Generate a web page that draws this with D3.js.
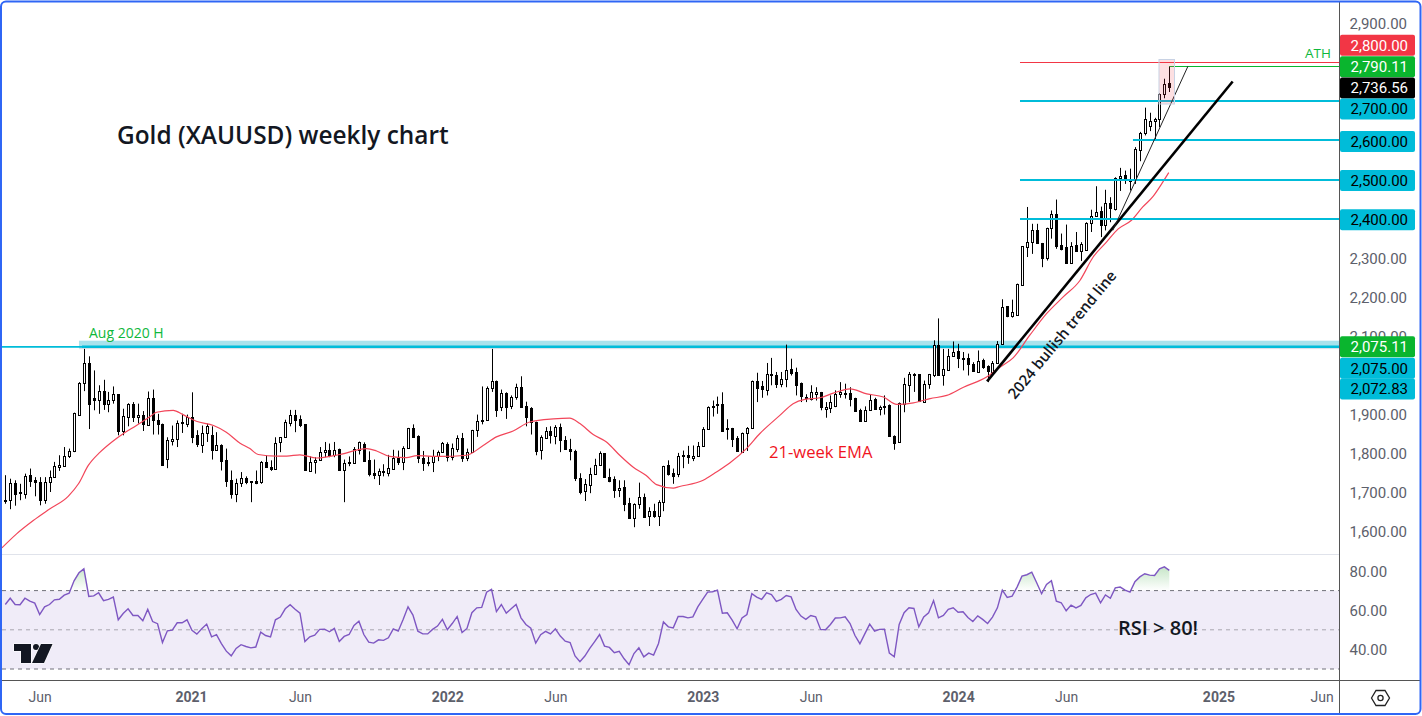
<!DOCTYPE html>
<html><head><meta charset="utf-8">
<script src="https://cdn.jsdelivr.net/npm/d3@7"></script>
<style>
html,body{margin:0;padding:0;background:#fff;overflow:hidden}
svg{display:block}
text{font-family:Roboto,"Noto Sans",sans-serif}
</style></head><body>
<svg id="c" width="1422" height="716"></svg>
<script>
// ---------- weekly candles (XAUUSD) ----------
const opens=[1681,1681,1725,1698,1698,1744,1731,1726,1680,1726,
1740,1766,1769,1793,1806,1899,1980,2032,1942,1936,
1960,1928,1935,1951,1857,1895,1927,1893,1899,1874,
1942,1886,1876,1784,1831,1836,1877,1874,1894,1846,
1823,1852,1846,1807,1820,1782,1731,1696,1724,1738,
1730,1729,1726,1778,1766,1761,1827,1840,1878,1899,
1887,1874,1756,1778,1784,1803,1809,1797,1810,1758,
1775,1775,1810,1825,1784,1750,1744,1752,1751,1762,
1789,1778,1813,1865,1843,1789,1778,1778,1793,1803,
1825,1792,1813,1840,1788,1803,1860,1886,1886,1967,
1986,1918,1955,1921,1944,1970,1922,1917,1881,1809,
1841,1858,1846,1868,1835,1812,1807,1738,1703,1721,
1747,1770,1800,1740,1733,1706,1713,1672,1634,1670,
1689,1640,1653,1640,1675,1769,1749,1749,1793,1795,
1789,1793,1819,1862,1919,1923,1925,1862,1864,1839,
1805,1852,1865,1986,1971,1964,2004,2001,1977,1990,
2015,2007,1981,1942,1941,1954,1956,1914,1917,1922,
1952,1952,1955,1941,1910,1883,1911,1938,1914,1920,
1923,1845,1829,1928,1977,2003,2002,1933,1977,1998,
2076,2000,2015,2050,2061,2041,2043,2029,2010,2038,
2022,2009,2031,2079,2176,2150,2153,2229,2327,2340,
2370,2338,2300,2377,2413,2332,2327,2287,2332,2317,
2321,2389,2407,2419,2385,2441,2425,2504,2511,2495,
2498,2576,2619,2639,2651,2656,2719,2747];
const closes=[1678,1725,1698,1700,1743,1729,1725,1680,1727,1740,
1767,1771,1794,1807,1902,1980,2032,1928,1936,1960,
1928,1937,1951,1857,1896,1927,1893,1899,1875,1942,
1886,1875,1770,1833,1837,1878,1879,1893,1844,1823,
1853,1871,1807,1820,1780,1728,1695,1725,1738,1728,
1727,1724,1778,1764,1761,1827,1841,1879,1899,1886,
1871,1756,1778,1784,1804,1809,1797,1809,1756,1775,
1777,1812,1830,1782,1749,1744,1755,1755,1763,1789,
1778,1814,1865,1842,1788,1777,1779,1794,1804,1826,
1792,1814,1840,1788,1804,1860,1883,1883,1967,1986,
1913,1955,1920,1945,1970,1920,1893,1880,1807,1842,
1858,1847,1868,1834,1811,1806,1737,1703,1722,1748,
1771,1800,1739,1731,1706,1712,1670,1634,1671,1689,
1639,1653,1640,1676,1768,1746,1742,1794,1795,1789,
1794,1819,1863,1919,1922,1925,1857,1864,1836,1806,
1853,1865,1986,1969,1964,2004,2001,1977,1991,2014,
2005,1975,1948,1945,1958,1958,1917,1918,1932,1952,
1957,1955,1940,1908,1883,1912,1937,1913,1918,1922,
1844,1828,1929,1978,2004,2003,1933,1978,2002,2076,
1999,2016,2050,2060,2042,2044,2027,2010,2037,2020,
2008,2032,2080,2174,2150,2161,2232,2329,2340,2370,
2336,2300,2377,2413,2330,2321,2287,2331,2317,2336,
2389,2408,2417,2383,2441,2427,2505,2510,2500,2501,
2577,2620,2656,2651,2656,2720,2745,2736.56];
const highs=[1744,1735,1731,1722,1748,1761,1739,1739,1739,1756,
1778,1795,1816,1812,1904,1982,2067,2048,2012,1974,
1988,1957,1971,1951,1914,1928,1931,1927,1908,1958,
1963,1901,1876,1841,1871,1884,1901,1899,1956,1859,
1871,1876,1869,1854,1823,1812,1756,1735,1752,1741,
1729,1756,1780,1795,1782,1841,1841,1886,1911,1911,
1897,1874,1792,1790,1816,1829,1825,1829,1812,1784,
1792,1816,1830,1828,1805,1784,1761,1772,1796,1809,
1807,1818,1865,1874,1846,1806,1792,1809,1807,1829,
1828,1825,1846,1852,1812,1860,1899,1971,1971,2067,
1986,1963,1956,1948,1978,1997,1932,1918,1881,1846,
1867,1869,1872,1876,1844,1837,1809,1749,1734,1763,
1786,1805,1800,1761,1741,1731,1731,1686,1672,1725,
1697,1662,1671,1680,1768,1782,1761,1801,1807,1819,
1820,1829,1867,1920,1935,1945,1956,1887,1865,1844,
1853,1867,1986,2006,1985,2031,2044,2008,2008,2078,
2042,2019,1981,1951,1974,1969,1957,1931,1948,1961,
1982,1978,1969,1942,1914,1920,1951,1942,1922,1948,
1925,1846,1930,1993,2008,2005,2002,1986,2003,2089,
2145,2067,2067,2086,2080,2059,2055,2033,2063,2042,
2025,2036,2087,2194,2176,2193,2234,2329,2430,2387,
2387,2338,2377,2421,2449,2362,2385,2340,2366,2340,
2391,2423,2483,2431,2474,2455,2506,2530,2523,2528,
2583,2622,2684,2671,2658,2721,2758,2790];
const lows=[1671,1657,1666,1680,1684,1714,1690,1667,1671,1701,
1739,1755,1767,1788,1803,1898,1959,1862,1910,1901,
1911,1905,1927,1846,1846,1869,1880,1876,1857,1871,
1848,1848,1770,1762,1820,1816,1852,1867,1826,1816,
1801,1829,1784,1806,1756,1714,1684,1675,1714,1721,
1675,1721,1722,1763,1755,1761,1803,1840,1869,1854,
1867,1756,1756,1748,1782,1790,1790,1790,1756,1675,
1767,1775,1797,1780,1741,1734,1719,1741,1741,1758,
1770,1757,1811,1840,1775,1755,1767,1752,1780,1801,
1779,1782,1803,1778,1780,1802,1842,1874,1884,1957,
1893,1908,1888,1913,1937,1920,1869,1848,1795,1784,
1840,1825,1823,1803,1809,1782,1729,1695,1678,1698,
1746,1768,1739,1726,1686,1688,1652,1634,1611,1658,
1636,1614,1635,1614,1652,1743,1722,1739,1762,1773,
1780,1791,1818,1861,1894,1901,1856,1835,1816,1805,
1803,1806,1865,1931,1942,1948,1974,1967,1969,1969,
1999,1948,1931,1931,1935,1935,1910,1891,1903,1918,
1942,1940,1920,1908,1882,1882,1910,1911,1897,1899,
1843,1809,1829,1905,1931,1957,1931,1929,1965,1995,
1999,1973,2012,2050,2018,2012,1999,2008,2008,2016,
1982,2003,2029,2079,2148,2147,2152,2229,2302,2310,
2336,2276,2293,2349,2323,2319,2286,2286,2315,2292,
2319,2366,2406,2353,2370,2391,2421,2471,2489,2472,
2489,2547,2613,2624,2599,2634,2708,2724];

// 21-week EMA, read at selected weeks
const emaWeeks=[-0.7,2.3,5.7,9.1,12.8,14.9,16.9,19.3,21.7,24,26.7,29.5,30.8,34.2,36.2,38.9,42.4,45,47.8,49.8,51.5,55.2,57.3,60,63.4,68.1,
73.6,75.6,78.3,81.7,83.8,88.5,93.9,97.3,100,103.4,106.8,111.6,114.9,117,119.7,122.4,125.1,127.8,130.5,132.6,136,137.3,
142.1,144.8,147.5,150.9,153.6,157.7,160.4,162.8,165.9,168.6,172,175.4,178.8,181.5,184.9,188.3,191.7,195.1,199.8,202.5,205.2,
208.6,212,215.4,218.8,221.5,224.2,226.6,229.3,231.6,233.7,235.7,236.9];
const emaValues=[1558,1594,1628,1658,1690,1722,1769,1803,1829,1850,1871,1894,1905,1910,1899,1882,1871,1854,1826,1812,1797,1793,1793,1796,1788,1797,
1812,1806,1792,1789,1794,1792,1795,1820,1842,1857,1880,1888,1890,1876,1848,1829,1795,1765,1743,1720,1711,1715,
1731,1752,1775,1812,1850,1897,1927,1938,1942,1954,1965,1952,1944,1925,1929,1940,1948,1969,1995,2020,2044,
2102,2157,2200,2242,2302,2340,2374,2396,2430,2457,2494,2518];

// RSI, one value per week
const rsiValues=[62.9,66.1,62.9,62.8,66.1,64.6,63.6,57.8,61.7,62.9,
65.3,65.6,67.7,68.7,75,79.1,81.1,67,67.3,68.9,
64.9,65.5,66.7,55.1,58.3,60.7,57.3,57.3,54.6,60.4,
54.2,53.1,43.5,49.5,49.8,53.6,53.6,55.1,49.7,47.8,
50.5,52.9,46.4,47.5,43,39.1,36.7,40.5,42.4,41.5,
40.8,41.2,48.8,47.1,46.4,55.1,56.5,60.7,62.8,60.5,
58.5,44,46.4,47.3,50.2,50.3,49,50.7,44,46.6,
47.6,52.2,54.4,47.6,43.7,43.2,44.9,44.6,45.9,50.5,
49.3,55.3,61.7,57.5,49.3,47.9,47.9,50.2,51.9,55.3,
50,53.2,56.8,48.6,50.7,58.7,61.2,61.4,69.2,70.7,
59.3,62.9,58.5,60.7,62.9,56.1,52.7,50.8,43.2,47.5,
49.2,47.9,50.5,46.8,44.2,43.5,36.7,33.7,36.6,40.5,
44,47.6,41.7,41,38.3,39,35.2,32.2,37.9,40.8,
36.2,38.1,37.1,43,54,51.5,51,56.8,56.8,56.1,
56.6,61.7,65.5,69.2,69.4,70.2,58.5,58.7,54.9,50.5,
56.1,57.8,68.4,66.7,65.5,68.9,68,64.5,65.5,67.5,
66.8,60.4,57,55.3,57.3,56.6,50.2,50,52.7,56,
56.1,56.6,53.2,47.1,42.9,47.9,52.9,49.3,50.2,50.3,
38.1,36.2,52.7,58.7,61.2,60.9,51.5,56.5,58.7,64.9,
56.1,57.3,60.4,61.2,59,59.2,56.3,54.2,57.1,55.3,
53.2,56.5,61.2,70.2,66.5,67.2,71.8,77.4,78.1,79.4,
74,68.4,73.1,75,64.6,63.8,59.7,62.6,61.2,62.4,
66.3,68,68.7,63.8,67.8,66.1,71.4,71.8,70.2,69.2,
74.5,77,78.6,77.9,77.7,81.1,82.1,80.3];

// axis contents (the levels under a price tag are not printed on the axis)
const priceTicks=[1600,1700,1800,1900,2100,2200,2300,2900];
const rsiTicks=[40,60,80];
const rsiBands=[30,50,70];
const timeWeeks=[7,37.8,60,90,112,142,164,194,216,247,268];
const timeLabels=["Jun","2021","Jun","2022","Jun","2023","Jun","2024","Jun","2025","Jun"];

// horizontal levels and trend lines
const cyanLevels=[2700,2600,2500,2400];
const cyanStarts=[206.6,229.6,206.6,206.6];
const resistanceLevel=2800, athLevel=2790.11, breakoutLevel=2075, bandTop=2088, bandBottom=2072.83;
const bullTrendWeeks=[199.9,249.9], bullTrendPrices=[1984,2751];
const thinTrendWeeks=[225.5,240.8], thinTrendPrices=[2370,2790];

// price tags on the right axis
const tagValues=[2800,2790.11,2736.56,2700,2600,2500,2400,2075.11,2075,2072.83];
const tagTexts=["2,800.00","2,790.11","2,736.56","2,700.00","2,600.00","2,500.00","2,400.00","2,075.11","2,075.00","2,072.83"];
const tagKinds=["red","green","black","cyan","cyan","cyan","cyan","green","cyan","cyan"];

// ---------- drawing ----------
const svg=d3.select("#c");
const x=d3.scaleLinear().domain([0,237]).range([5.3,1169.3]);
const y=d3.scaleLinear().domain([1600,2900]).range([531.5,23.2]);
const r=d3.scaleLinear().domain([30,70]).range([669,590.6]);
const PR=1339.5;
const COL={red:"#f23645",green:"#0ab52e",black:"#000",cyan:"#00bcd9"};
const snap=v=>Math.floor(v)+.5;

const defs=svg.append("defs");
defs.append("clipPath").attr("id","pane").append("rect").attr("x",2).attr("y",2).attr("width",PR-2).attr("height",552);
const g=defs.append("linearGradient").attr("id","ob").attr("x1",0).attr("x2",0).attr("y1",0).attr("y2",1);
g.append("stop").attr("offset","0").attr("stop-color","#4caf50").attr("stop-opacity",.32);
g.append("stop").attr("offset","1").attr("stop-color","#4caf50").attr("stop-opacity",0);

svg.append("rect").attr("width",1422).attr("height",716).attr("fill","#fff");

// panes
svg.append("line").attr("x1",2).attr("x2",PR).attr("y1",554.5).attr("y2",554.5).attr("stroke","#e0e3eb");

// RSI pane
svg.append("rect").attr("x",2).attr("width",PR-2).attr("y",r(70)).attr("height",r(30)-r(70)).attr("fill","#f0ecf8");
svg.selectAll("line.band").data(rsiBands).join("line").attr("class","band")
 .attr("x1",2).attr("x2",PR).attr("y1",d=>r(d)).attr("y2",d=>r(d))
 .attr("stroke",d=>d===50?"#a9a7b0":"#70707a").attr("stroke-width",1).attr("stroke-dasharray","4 4");
const rsiData=rsiValues.map((v,i)=>({i,v}));
svg.append("path").datum(rsiData).attr("fill","url(#ob)")
 .attr("d",d3.area().x(d=>x(d.i)).y0(r(70)).y1(d=>r(Math.max(d.v,70))));
svg.append("path").datum(rsiData).attr("fill","none").attr("stroke","#7e57c2").attr("stroke-width",1.4)
 .attr("d",d3.line().x(d=>x(d.i)).y(d=>r(d.v)));

const pane=svg.append("g").attr("clip-path","url(#pane)");

// 2075 band and line
pane.append("rect").attr("x",x(15)).attr("width",PR-x(15)).attr("y",y(bandTop)).attr("height",y(bandBottom)-y(bandTop)+1.5).attr("fill","#a8e2ec");
pane.append("rect").attr("x",x(15)).attr("width",PR-x(15)).attr("y",y(bandBottom)+1.5).attr("height",1).attr("fill","#d5dde6");
pane.append("line").attr("x1",2).attr("x2",x(15)+3).attr("y1",y(breakoutLevel)+1).attr("y2",y(breakoutLevel)+1).attr("stroke",COL.cyan).attr("stroke-width",1.7);
pane.append("line").attr("x1",x(15)+3).attr("x2",PR).attr("y1",y(breakoutLevel)+1).attr("y2",y(breakoutLevel)+1).attr("stroke",COL.cyan).attr("stroke-width",2.6);

// candles
const candles=d3.range(opens.length).map(i=>({i,o:opens[i],h:highs[i],l:lows[i],c:closes[i]}));
const cg=pane.append("g").selectAll("g").data(candles).join("g");
cg.append("line").attr("x1",d=>Math.round(x(d.i))+.5).attr("x2",d=>Math.round(x(d.i))+.5)
 .attr("y1",d=>y(d.h)).attr("y2",d=>y(d.l)).attr("stroke","#000").attr("stroke-width",1);
cg.append("rect").attr("x",d=>Math.round(x(d.i))-.5).attr("width",2)
 .attr("y",d=>Math.round(y(Math.max(d.o,d.c)))+.5)
 .attr("height",d=>Math.max(1,Math.round(Math.abs(y(d.o)-y(d.c)))))
 .attr("fill",d=>d.c>=d.o?"#fff":"#000").attr("stroke","#000").attr("stroke-width",1);

// EMA
pane.append("path").datum(emaWeeks.map((w,i)=>[w,emaValues[i]])).attr("fill","none").attr("stroke","#f2465a").attr("stroke-width",1.2)
 .attr("d",d3.line().x(d=>x(d[0])).y(d=>y(d[1])).curve(d3.curveMonotoneX));

// levels
pane.selectAll("line.lvl").data(cyanLevels).join("line").attr("class","lvl")
 .attr("x1",(d,i)=>x(cyanStarts[i])).attr("x2",PR).attr("y1",d=>Math.round(y(d))).attr("y2",d=>Math.round(y(d)))
 .attr("stroke",COL.cyan).attr("stroke-width",2);
pane.append("line").attr("x1",x(206.6)).attr("x2",PR).attr("y1",snap(y(resistanceLevel))).attr("y2",snap(y(resistanceLevel))).attr("stroke",COL.red).attr("stroke-width",1);
pane.append("line").attr("x1",x(237)).attr("x2",PR).attr("y1",snap(y(athLevel))).attr("y2",snap(y(athLevel))).attr("stroke",COL.green).attr("stroke-width",1);

// trend lines
pane.append("line").attr("x1",x(bullTrendWeeks[0])).attr("x2",x(bullTrendWeeks[1])).attr("y1",y(bullTrendPrices[0])).attr("y2",y(bullTrendPrices[1])).attr("stroke","#000").attr("stroke-width",2.6);
pane.append("line").attr("x1",x(thinTrendWeeks[0])).attr("x2",x(thinTrendWeeks[1])).attr("y1",y(thinTrendPrices[0])).attr("y2",y(thinTrendPrices[1])).attr("stroke","#222").attr("stroke-width",1);

// highlight box
svg.append("rect").attr("x",1159).attr("y",59.5).attr("width",15.5).attr("height",44.5)
 .attr("fill","#f23645").attr("fill-opacity",.16).attr("stroke","#c8d2e4").attr("stroke-width",1);

// axis frames
svg.append("line").attr("x1",PR).attr("x2",PR).attr("y1",2).attr("y2",713).attr("stroke","#555");
svg.append("line").attr("x1",2).attr("x2",1420).attr("y1",680.5).attr("y2",680.5).attr("stroke","#555");

// axes
const priceAxis=d3.axisRight(y).tickValues(priceTicks).tickSize(0).tickPadding(10).tickFormat(d3.format(",.2f"));
const pa=svg.append("g").attr("transform",`translate(${PR},0)`).call(priceAxis);
pa.select(".domain").remove();
const rsiAxis=d3.axisRight(r).tickValues(rsiTicks).tickSize(0).tickPadding(10).tickFormat(d3.format(".2f"));
const ra=svg.append("g").attr("transform",`translate(${PR},0)`).call(rsiAxis);
ra.select(".domain").remove();
[pa,ra].forEach(a=>a.selectAll("text").attr("font-size",15).attr("fill","#5d606b").attr("dy","0.36em").style("font-family","Roboto,sans-serif"));

const timeAxis=d3.axisBottom(x).tickValues(timeWeeks).tickSize(0).tickPadding(12).tickFormat((d,i)=>timeLabels[i]);
const ta=svg.append("g").attr("transform","translate(0,680)").call(timeAxis);
ta.select(".domain").remove();
ta.selectAll("text").attr("font-size",14).style("font-family","Roboto,sans-serif")
 .attr("fill","#5d606b").attr("font-weight",(d,i)=>/^\d/.test(timeLabels[i])?700:400);

// tags
const tagShift=[-17,0.5,1,7.5,1,1,1,1,22.5,42.5];
const tg=svg.append("g").selectAll("g").data(tagValues).join("g")
 .attr("transform",(d,i)=>`translate(1340,${y(d)+tagShift[i]})`);
tg.append("rect").attr("x",0).attr("y",-10.5).attr("width",75).attr("height",21).attr("rx",2)
 .attr("fill",(d,i)=>COL[tagKinds[i]]);
tg.append("text").attr("x",10.5).attr("dy","0.35em").attr("font-size",15)
 .attr("fill",(d,i)=>tagKinds[i]==="cyan"?"#000":"#fff").text((d,i)=>tagTexts[i]);

// annotations
const ann=(t,xx,yy,size,color,weight,extra)=>{const e=svg.append("text").attr("x",xx).attr("y",yy).attr("font-size",size).attr("fill",color).attr("font-weight",weight).style("font-family","'Open Sans',sans-serif").text(t);if(extra)e.attr("transform",extra);return e;};
ann("Gold (XAUUSD) weekly chart",117,144,24.4,"#131722",600);
ann("Aug 2020 H",89,338,14,"#0fb83c",400);
ann("21-week EMA",769,458,16.6,"#f0141e",400);
ann("ATH",1305,58,13.5,"#0fb83c",400);
ann("RSI > 80!",1118,635,20,"#131722",600);
ann("2024 bullish trend line",0,0,15,"#131722",600,"translate(1015,400) rotate(-50.5)");

// TradingView mark
const logo=svg.append("g").attr("fill","#131722").attr("stroke","#fff").attr("stroke-width",1.2).attr("paint-order","stroke");
logo.append("path").attr("d","M14 644H31V663H21V651H14Z");
logo.append("circle").attr("cx",36).attr("cy",647).attr("r",3);
logo.append("path").attr("d","M41 644H52.5L44 663H32Z");

// settings icon
const gear=svg.append("g").attr("fill","none").attr("stroke","#222").attr("stroke-width",1.3);
gear.append("path").attr("d","M1371.5 698L1376 690.5H1385L1389.5 698L1385 705.5H1376Z");
gear.append("circle").attr("cx",1380.5).attr("cy",698).attr("r",2.6);

// frame
svg.append("rect").attr("x",1).attr("y",1.5).attr("width",1419.5).attr("height",712.5).attr("rx",5)
 .attr("fill","none").attr("stroke","#2f66f5").attr("stroke-width",2);
</script>
</body></html>
